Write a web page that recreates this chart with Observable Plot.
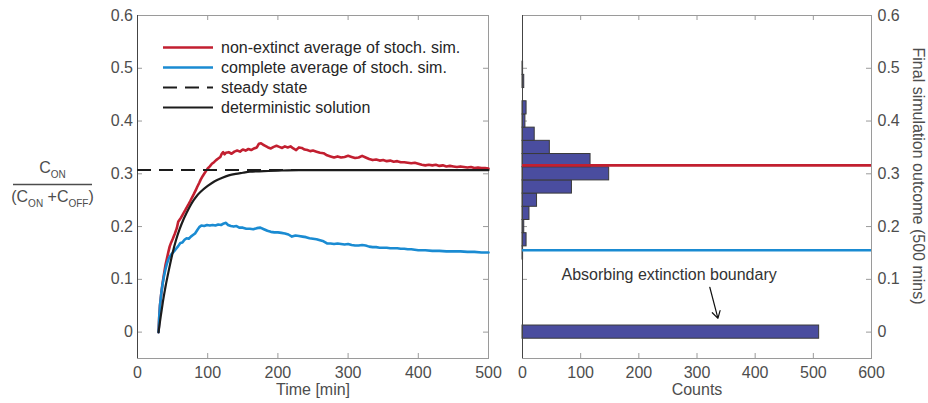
<!DOCTYPE html>
<html><head><meta charset="utf-8">
<script src="https://cdn.jsdelivr.net/npm/d3@7"></script>
<script src="https://cdn.jsdelivr.net/npm/@observablehq/plot@0.6"></script>
<style>
body{margin:0;background:#fff;}
#wrap{position:relative;width:928px;height:403px;font-family:"Liberation Sans",Arial,sans-serif;}
#left,#right{position:absolute;top:0;}
#left{left:0;} #right{left:500px;}
#ov{position:absolute;left:0;top:0;pointer-events:none;}
</style></head><body>
<div id="wrap"><div id="left"></div><div id="right"></div><svg id="ov" width="928" height="403"></svg></div>
<script>
// ---------- data ----------
const redSeries = [[30,0],[31,0.03],[32,0.05],[34,0.075],[36,0.095],[38,0.112],[40,0.128],[42,0.14],[44,0.152],[46,0.163],[48,0.17],[50,0.176],[53,0.186],[56,0.197],[58,0.209],[60,0.213],[62,0.217],[65,0.224],[68,0.231],[70,0.236],[73,0.243],[75,0.248],[78,0.256],[80,0.261],[83,0.269],[85,0.275],[88,0.283],[90,0.289],[93,0.296],[95,0.3],[98,0.306],[100,0.31],[103,0.314],[106,0.319],[109,0.322],[112,0.326],[115,0.329],[118,0.332],[120,0.338],[122,0.341],[124,0.337],[126,0.34],[130,0.341],[134,0.338],[138,0.342],[142,0.344],[146,0.342],[150,0.346],[154,0.344],[158,0.347],[162,0.345],[166,0.348],[170,0.35],[173,0.357],[176,0.358],[179,0.355],[182,0.353],[186,0.35],[190,0.348],[194,0.351],[198,0.353],[202,0.351],[206,0.349],[210,0.352],[214,0.35],[218,0.352],[222,0.348],[226,0.345],[230,0.35],[234,0.349],[238,0.346],[242,0.345],[246,0.343],[250,0.344],[255,0.342],[260,0.34],[265,0.339],[270,0.335],[275,0.333],[280,0.331],[285,0.333],[290,0.331],[295,0.332],[300,0.334],[305,0.332],[310,0.33],[315,0.331],[320,0.334],[325,0.331],[330,0.328],[335,0.326],[340,0.327],[345,0.325],[350,0.326],[355,0.324],[360,0.325],[365,0.323],[370,0.324],[375,0.322],[380,0.322],[385,0.321],[390,0.32],[395,0.321],[400,0.319],[405,0.317],[410,0.316],[415,0.317],[420,0.316],[425,0.317],[430,0.315],[435,0.316],[440,0.314],[445,0.315],[450,0.314],[455,0.313],[460,0.314],[465,0.313],[470,0.312],[475,0.313],[480,0.311],[485,0.312],[490,0.311],[495,0.311],[500,0.31]];
const blueSeries = [[30,0],[31,0.03],[32,0.05],[34,0.075],[36,0.093],[38,0.108],[40,0.12],[42,0.13],[44,0.138],[46,0.143],[48,0.147],[50,0.15],[52,0.153],[55,0.158],[58,0.163],[61,0.169],[64,0.17],[67,0.175],[70,0.178],[73,0.177],[76,0.181],[79,0.184],[82,0.187],[85,0.193],[88,0.199],[91,0.202],[95,0.201],[99,0.203],[103,0.202],[107,0.203],[111,0.202],[115,0.204],[119,0.203],[123,0.206],[126,0.207],[129,0.203],[133,0.201],[137,0.2],[141,0.201],[145,0.198],[150,0.198],[155,0.196],[160,0.196],[165,0.195],[170,0.197],[175,0.198],[180,0.195],[185,0.192],[190,0.19],[195,0.189],[200,0.189],[205,0.188],[210,0.187],[215,0.185],[220,0.181],[225,0.183],[230,0.182],[235,0.181],[240,0.18],[245,0.178],[250,0.177],[255,0.176],[260,0.174],[265,0.172],[270,0.168],[275,0.168],[280,0.167],[285,0.168],[290,0.167],[295,0.166],[300,0.167],[305,0.165],[310,0.164],[315,0.164],[320,0.165],[325,0.164],[330,0.162],[335,0.161],[340,0.161],[345,0.16],[350,0.16],[355,0.16],[360,0.159],[365,0.159],[370,0.159],[375,0.158],[380,0.158],[385,0.157],[390,0.157],[395,0.156],[400,0.155],[410,0.155],[420,0.154],[430,0.154],[440,0.153],[450,0.153],[460,0.153],[470,0.152],[480,0.152],[490,0.151],[500,0.151]];
const detSeries = [[30,0],[32,0.02],[34,0.038],[36,0.056],[38,0.072],[40,0.087],[43,0.107],[46,0.126],[50,0.15],[55,0.175],[60,0.195],[65,0.212],[70,0.226],[75,0.239],[80,0.25],[85,0.259],[90,0.266],[100,0.277],[110,0.286],[120,0.292],[130,0.297],[140,0.3],[150,0.302],[160,0.304],[180,0.305],[200,0.306],[230,0.307],[300,0.307],[400,0.307],[500,0.307]];
const steadyState = 0.307;
const legendLabels = ["non-extinct average of stoch. sim.","complete average of stoch. sim.","steady state","deterministic solution"];
const binCenters = [0,0.15,0.175,0.2,0.225,0.25,0.275,0.3,0.325,0.35,0.375,0.4,0.425,0.475,0.5];
const binCounts  = [510,1,7,3,12,25,85,149,117,47,21,5,7,3,1];
const binWidth = 0.025;
const finalNonExtinctMean = 0.316;
const finalCompleteMean = 0.155;
const timeTicks = [0,100,200,300,400,500];
const countTicks = [0,100,200,300,400,500,600];
const yTicks = [0,0.1,0.2,0.3,0.4,0.5,0.6];
const annotation = [{tx:252, ty:0.108, x1:322, y1:0.085, x2:336, y2:0.026, label:"Absorbing extinction boundary"}];
const xLabelLeft = "Time [min]", xLabelRight = "Counts", yLabelRight = "Final simulation outcome (500 mins)";

// ---------- style ----------
const FONT = '"Liberation Sans", Arial, sans-serif';
const RED = "#c21f30", BLUE = "#1a8bd2", BLACK = "#1c1c1c", BAR = "#4a4d9f";
const FRAME = "#9a9a9a", EDGE = "#444", TXT = "#4d4d4d";
const fmtY = d => d === 0 ? "0" : d.toFixed(1);
const H = 403, MT = 15, MB = 45, TL = 5;

function boxTicks(xt, yt, fw, fh) {
  return [
    Plot.ruleX(xt, {x: d => d, insetTop: fh - TL, stroke: FRAME}),
    Plot.ruleX(xt, {x: d => d, insetBottom: fh - TL, stroke: FRAME}),
    Plot.ruleY(yt, {y: d => d, insetRight: fw - TL, stroke: FRAME}),
    Plot.ruleY(yt, {y: d => d, insetLeft: fw - TL, stroke: FRAME})
  ];
}

// ---------- left panel ----------
const L = {w: 500, ml: 137, mr: 12};
const lfw = L.w - L.ml - L.mr, fh = H - MT - MB;
const left = Plot.plot({
  width: L.w, height: H, marginLeft: L.ml, marginRight: L.mr, marginTop: MT, marginBottom: MB,
  style: {fontFamily: FONT, fontSize: "16px", color: TXT, background: "transparent", overflow: "visible"},
  x: {domain: [0, 500]},
  y: {domain: [-0.05, 0.6]},
  marks: [
    Plot.frame({stroke: FRAME}),
    ...boxTicks(timeTicks, yTicks, lfw, fh),
    Plot.ruleX([0], {stroke: EDGE}),
    Plot.axisX({ticks: timeTicks, tickSize: 0, tickPadding: 8, label: null, fontSize: 16}),
    Plot.axisY({ticks: yTicks, tickSize: 0, tickPadding: 4.5, label: null, tickFormat: fmtY, fontSize: 16}),
    Plot.line(redSeries, {x: d => d[0], y: d => d[1], stroke: RED, strokeWidth: 2.6}),
    Plot.line(blueSeries, {x: d => d[0], y: d => d[1], stroke: BLUE, strokeWidth: 2.6}),
    Plot.ruleY([steadyState], {stroke: BLACK, strokeWidth: 2, strokeDasharray: "14,8"}),
    Plot.line(detSeries, {x: d => d[0], y: d => d[1], stroke: BLACK, strokeWidth: 2.2, curve: "monotone-x"}),
    Plot.text([xLabelLeft], {frameAnchor: "bottom", dy: 36, fontSize: 16, fill: TXT})
  ]
});
document.getElementById("left").append(left);

// ---------- right panel ----------
const R = {w: 428, ml: 22, mr: 57};
const rfw = R.w - R.ml - R.mr;
const bins = binCenters.map((c, i) => ({c, n: binCounts[i]}));
const right = Plot.plot({
  width: R.w, height: H, marginLeft: R.ml, marginRight: R.mr, marginTop: MT, marginBottom: MB,
  style: {fontFamily: FONT, fontSize: "16px", color: TXT, background: "transparent", overflow: "visible"},
  x: {domain: [0, 600]},
  y: {domain: [-0.05, 0.6]},
  marks: [
    Plot.frame({stroke: FRAME}),
    ...boxTicks(countTicks, yTicks, rfw, fh),
    Plot.rectX(bins, {x1: d => 0, x2: d => d.n, y1: d => d.c - binWidth / 2, y2: d => d.c + binWidth / 2, fill: BAR, stroke: "#3a3a3a", strokeWidth: 1}),
    Plot.ruleX([0], {stroke: EDGE}),
    Plot.ruleY([finalNonExtinctMean], {stroke: RED, strokeWidth: 2.6}),
    Plot.ruleY([finalCompleteMean], {stroke: BLUE, strokeWidth: 2.6}),
    Plot.axisX({ticks: countTicks, tickSize: 0, tickPadding: 8, label: null, fontSize: 16}),
    Plot.axisY({anchor: "right", ticks: yTicks, tickSize: 0, tickPadding: 6, label: null, tickFormat: fmtY, fontSize: 16}),
    Plot.arrow(annotation, {x1: "x1", y1: "y1", x2: "x2", y2: "y2", stroke: "#111", strokeWidth: 1.2, headLength: 10, bend: 0}),
    Plot.text(annotation, {x: "tx", y: "ty", text: "label", fontSize: 16, fill: "#333"}),
    Plot.text([xLabelRight], {frameAnchor: "bottom", dy: 36, fontSize: 16, fill: TXT})
  ]
});
document.getElementById("right").append(right);

// ---------- overlay: y-labels + legend ----------
const ov = d3.select("#ov").style("font-family", FONT);
ov.append("text").attr("transform", "translate(913,176) rotate(90)").attr("text-anchor", "middle")
  .attr("font-size", 16).attr("fill", TXT).text(yLabelRight);

const num = ov.append("text").attr("x", 52.5).attr("y", 173).attr("text-anchor", "middle").attr("fill", TXT).attr("font-size", 16);
num.append("tspan").text("C");
num.append("tspan").attr("font-size", 10).attr("dy", 5).text("ON");
ov.append("line").attr("x1", 13).attr("x2", 92).attr("y1", 184.5).attr("y2", 184.5).attr("stroke", TXT).attr("stroke-width", 1.3);
const den = ov.append("text").attr("x", 52.5).attr("y", 202).attr("text-anchor", "middle").attr("fill", TXT).attr("font-size", 16);
den.append("tspan").text("(C");
den.append("tspan").attr("font-size", 10).attr("dy", 5).text("ON");
den.append("tspan").attr("dy", -5).text(" +C");
den.append("tspan").attr("font-size", 10).attr("dy", 5).text("OFF");
den.append("tspan").attr("dy", -5).text(")");

const legStyles = [
  {stroke: RED, w: 2.6, dash: null},
  {stroke: BLUE, w: 2.6, dash: null},
  {stroke: BLACK, w: 2, dash: "14,8"},
  {stroke: BLACK, w: 2.2, dash: null}
];
legendLabels.forEach((lab, i) => {
  const y = 47.5 + i * 20;
  const s = legStyles[i];
  const ln = ov.append("line").attr("x1", 163).attr("x2", 213).attr("y1", y).attr("y2", y)
    .attr("stroke", s.stroke).attr("stroke-width", s.w);
  if (s.dash) ln.attr("stroke-dasharray", s.dash);
  ov.append("text").attr("x", 221).attr("y", y + 5.5).attr("font-size", 16).attr("fill", "#262626").text(lab);
});
</script>
</body></html>
